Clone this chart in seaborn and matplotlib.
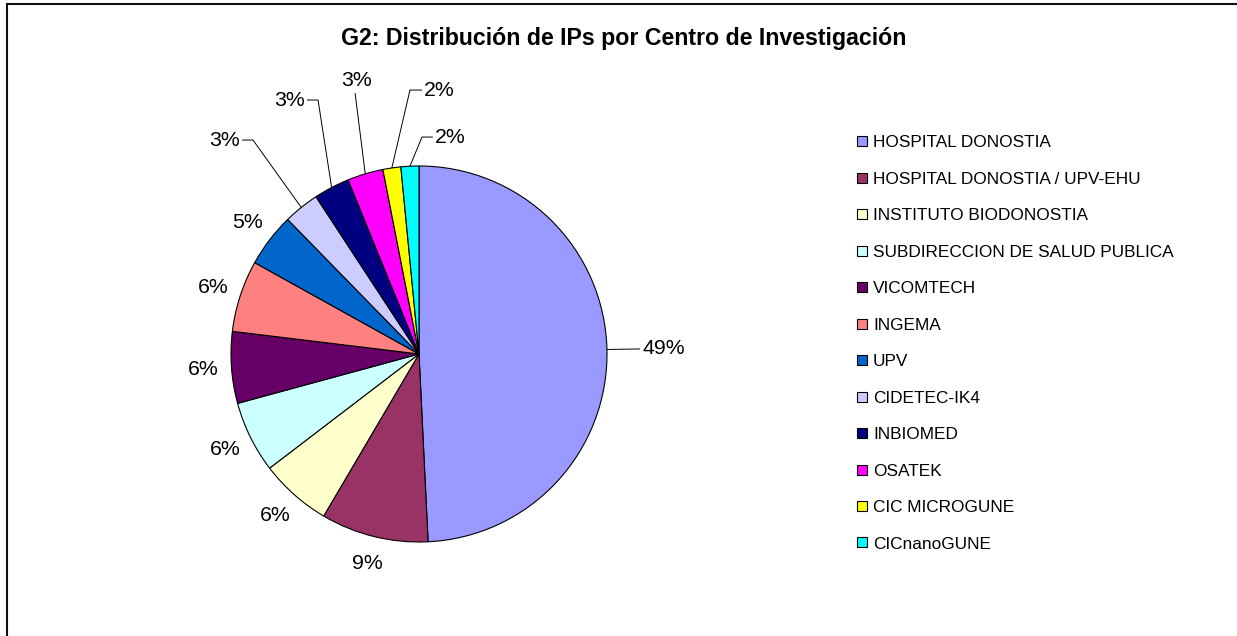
"""G2: pie of IPs per research centre, redrawn Excel-style."""

import numpy as np
import matplotlib.pyplot as plt
import seaborn as sns
from matplotlib.lines import Line2D
from matplotlib.patches import Rectangle

# ── data ──────────────────────────────────────────────────────────────────────
centros = [
    "HOSPITAL DONOSTIA",
    "HOSPITAL DONOSTIA / UPV-EHU",
    "INSTITUTO BIODONOSTIA",
    "SUBDIRECCION DE SALUD PUBLICA",
    "VICOMTECH",
    "INGEMA",
    "UPV",
    "CIDETEC-IK4",
    "INBIOMED",
    "OSATEK",
    "CIC MICROGUNE",
    "CICnanoGUNE",
]
num_ips = [32, 6, 4, 4, 4, 4, 3, 2, 2, 2, 1, 1]
colores = ["#9999FF", "#993366", "#FFFFCC", "#CCFFFF", "#660066", "#FF8080",
           "#0066CC", "#CCCCFF", "#000080", "#FF00FF", "#FFFF00", "#00FFFF"]

TITLE = "G2: Distribución de IPs por Centro de Investigación"

# ── layout (pixels of a 1237x636 canvas) ─────────────────────────────────────
W, H = 1237, 636
CX, CY, R_PX = 419, 354, 188          # pie centre and radius
PLAIN_R = 1.15                         # label radius for slices w/o leader line
# leader lines: elbow, stub end, text anchor (data units) and alignment
LEADERS = {
    0: ((1.176, 0.027), (1.176, 0.027), (1.190, 0.027), "left", "center"),
    7: ((-0.883, 1.138), (-0.941, 1.138), (-0.952, 1.138), "right", "center"),
    8: ((-0.537, 1.351), (-0.596, 1.351), (-0.607, 1.351), "right", "center"),
    9: ((-0.340, 1.388), (-0.340, 1.388), (-0.332, 1.405), "center", "bottom"),
    10: ((-0.048, 1.404), (0.016, 1.404), (0.024, 1.404), "left", "center"),
    11: ((0.016, 1.154), (0.074, 1.154), (0.082, 1.154), "left", "center"),
}

sns.set_theme(style="white")
plt.rcParams["font.family"] = ["Liberation Sans", "DejaVu Sans"]
plt.rcParams["text.color"] = "black"

fig = plt.figure(figsize=(W / 100, H / 100), dpi=100)
ax = fig.add_axes([0, 0, 1, 1])

palette = sns.color_palette(colores)
wedges, _ = ax.pie(num_ips, colors=palette, startangle=90, counterclock=False,
                   wedgeprops=dict(edgecolor="black", linewidth=0.8))

ax.set_xlim(-CX / R_PX, (W - CX) / R_PX)
ax.set_ylim(-(H - CY) / R_PX, CY / R_PX)
ax.set_aspect("auto")
ax.axis("off")

total = sum(num_ips)
for i, (w, v) in enumerate(zip(wedges, num_ips)):
    pct = f"{v / total * 100:.0f}%"
    ang = np.deg2rad((w.theta1 + w.theta2) / 2)
    ex, ey = np.cos(ang), np.sin(ang)
    if i in LEADERS:
        elbow, end, txt, ha, va = LEADERS[i]
        ax.plot([ex, elbow[0], end[0]], [ey, elbow[1], end[1]],
                color="black", lw=0.7, solid_capstyle="butt")
        ax.text(txt[0], txt[1], pct, ha=ha, va=va, fontsize=15.3)
    else:
        ax.text(PLAIN_R * ex, PLAIN_R * ey, pct, ha="center", va="center",
                fontsize=15.3)

fig.text(624 / W, 1 - 39 / H, TITLE, ha="center", va="center",
         fontsize=16.7, fontweight="bold")

handles = [Line2D([], [], marker="s", linestyle="none", markersize=7,
                  markerfacecolor=c, markeredgecolor="black",
                  markeredgewidth=0.8) for c in palette]
fig.legend(handles, centros, loc="upper left",
           bbox_to_anchor=(855 / W, 1 - 135 / H), frameon=False,
           fontsize=12.4, handlelength=0.8, handletextpad=0.25,
           labelspacing=1.245, borderpad=0, borderaxespad=0)

# outer chart frame (only top and left edges fall inside the canvas)
fig.patches.append(Rectangle((7.5 / W, -0.1), 1.2, 1.1 - 3.5 / H,
                             transform=fig.transFigure, fill=False,
                             edgecolor="#111111", lw=1.5))

fig.savefig("out.png", dpi=100)
